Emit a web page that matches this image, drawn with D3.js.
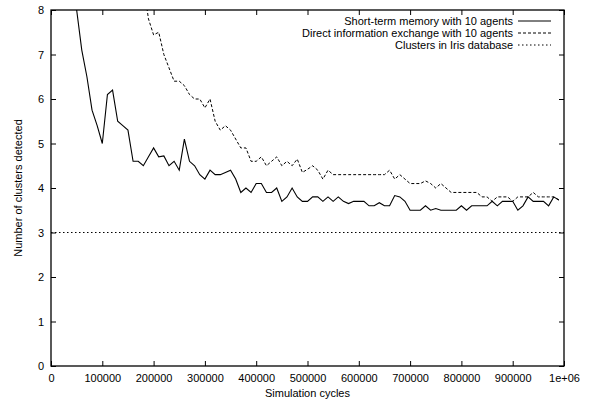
<!DOCTYPE html>
<html>
<head>
<meta charset="utf-8">
<script src="https://cdn.jsdelivr.net/npm/d3@7/dist/d3.min.js"></script>
<style>
  body { margin: 0; background: #fff; }
  svg { display: block; }
  text { font-family: "Liberation Sans", Arial, Helvetica, sans-serif; font-size: 11px; fill: #000; }
</style>
</head>
<body>
<svg id="chart" width="592" height="403"></svg>
<script>
// data (one point every 10000 cycles)
var shortStart = 50000
var shortTerm = [8.0, 7.1, 6.5, 5.75, 5.4, 5.0, 6.1, 6.2, 5.5, 5.4,
  5.3, 4.6, 4.6, 4.5, 4.7, 4.9, 4.7, 4.72, 4.5, 4.6,
  4.4, 5.1, 4.6, 4.5, 4.3, 4.2, 4.4, 4.3, 4.3, 4.35,
  4.4, 4.2, 3.9, 4.0, 3.9, 4.1, 4.1, 3.9, 3.9, 4.0,
  3.7, 3.8, 4.0, 3.8, 3.7, 3.7, 3.8, 3.8, 3.7, 3.8,
  3.7, 3.8, 3.7, 3.65, 3.7, 3.7, 3.7, 3.6, 3.6, 3.67,
  3.6, 3.6, 3.83, 3.8, 3.7, 3.5, 3.5, 3.5, 3.6, 3.5,
  3.54, 3.5, 3.5, 3.5, 3.5, 3.6, 3.5, 3.6, 3.6, 3.6,
  3.6, 3.7, 3.6, 3.7, 3.7, 3.7, 3.5, 3.6, 3.8, 3.7,
  3.7, 3.7, 3.6, 3.8, 3.73]

var directStart = 180000
var direct = [8.6, 7.8, 7.44, 7.5, 7.0, 6.7, 6.4, 6.4, 6.3, 6.1,
  6.0, 6.0, 5.8, 6.0, 5.5, 5.3, 5.4, 5.3, 5.1, 4.9,
  4.9, 4.6, 4.6, 4.7, 4.5, 4.6, 4.7, 4.5, 4.6, 4.5,
  4.65, 4.35, 4.42, 4.5, 4.4, 4.2, 4.4, 4.3, 4.3, 4.3,
  4.3, 4.3, 4.3, 4.3, 4.3, 4.3, 4.3, 4.3, 4.4, 4.2,
  4.3, 4.2, 4.1, 4.1, 4.1, 4.16, 4.1, 4.0, 4.1, 4.0,
  3.9, 3.9, 3.9, 3.9, 3.9, 3.9, 3.8, 3.8, 3.7, 3.8,
  3.8, 3.8, 3.7, 3.8, 3.8, 3.8, 3.9, 3.8, 3.8, 3.8,
  3.8, 3.73]

var irisClusters = 3

var xTicks = [0, 100000, 200000, 300000, 400000, 500000, 600000, 700000, 800000, 900000, 1000000]
var yTicks = [0, 1, 2, 3, 4, 5, 6, 7, 8]

var legendLabels = ["Short-term memory with 10 agents", "Direct information exchange with 10 agents", "Clusters in Iris database"]

// layout (plot box edges)
var pL = 51, pR = 564, pT = 10, pB = 366

var svg = d3.select("#chart")

var x = d3.scaleLinear().domain([0, 1000000]).range([pL, pR])
var y = d3.scaleLinear().domain([0, 8]).range([pB, pT])

svg.append("clipPath").attr("id", "plotclip")
  .append("rect")
  .attr("x", pL).attr("y", pT)
  .attr("width", pR - pL).attr("height", pB - pT)

function xLabel(d) {
  return d === 1000000 ? "1e+06" : String(d)
}
function noLabel() { return "" }

// axes: labelled bottom/left, mirrored inward ticks top/right
svg.append("g")
  .attr("transform", "translate(0," + pB + ")")
  .call(d3.axisBottom(x).tickValues(xTicks).tickFormat(xLabel).tickSizeInner(-5).tickSizeOuter(0).tickPadding(8))
svg.append("g")
  .attr("transform", "translate(0," + pT + ")")
  .call(d3.axisTop(x).tickValues(xTicks).tickFormat(noLabel).tickSizeInner(-5).tickSizeOuter(0))
svg.append("g")
  .attr("transform", "translate(" + pL + ",0)")
  .call(d3.axisLeft(y).tickValues(yTicks).tickFormat(d3.format("d")).tickSizeInner(-5).tickSizeOuter(0).tickPadding(7))
svg.append("g")
  .attr("transform", "translate(" + pR + ",0)")
  .call(d3.axisRight(y).tickValues(yTicks).tickFormat(noLabel).tickSizeInner(-5).tickSizeOuter(0))

svg.selectAll(".domain").remove()
svg.selectAll(".tick line").attr("stroke", "#000")
svg.selectAll(".tick text").style("font-size", "11px")

// frame
svg.append("rect")
  .attr("x", pL).attr("y", pT)
  .attr("width", pR - pL).attr("height", pB - pT)
  .attr("fill", "none").attr("stroke", "#000").attr("stroke-width", 1.3)

// series
var line = d3.line()
  .x(function(d) { return x(d[0]) })
  .y(function(d) { return y(d[1]) })

function toPoints(start, vals) {
  return vals.map(function(v, i) { return [start + i * 10000, v] })
}

var plot = svg.append("g").attr("clip-path", "url(#plotclip)")

plot.append("line")
  .attr("x1", x(0)).attr("x2", x(1000000))
  .attr("y1", y(irisClusters)).attr("y2", y(irisClusters))
  .attr("stroke", "#000").attr("stroke-width", 1)
  .attr("stroke-dasharray", "1.5,2.5")

plot.append("path")
  .datum(toPoints(directStart, direct))
  .attr("d", line)
  .attr("fill", "none").attr("stroke", "#000").attr("stroke-width", 1)
  .attr("stroke-dasharray", "3,2")

plot.append("path")
  .datum(toPoints(shortStart, shortTerm))
  .attr("d", line)
  .attr("fill", "none").attr("stroke", "#000").attr("stroke-width", 1.1)

// legend
var dashes = [null, "3,2", "1.5,2.5"]
var legend = svg.append("g")
legendLabels.forEach(function(lbl, i) {
  var ly = 21 + i * 12
  legend.append("text")
    .attr("x", 513).attr("y", ly + 4)
    .attr("text-anchor", "end")
    .text(lbl)
  legend.append("line")
    .attr("x1", 518).attr("x2", 551)
    .attr("y1", ly).attr("y2", ly)
    .attr("stroke", "#000").attr("stroke-width", 1)
    .attr("stroke-dasharray", dashes[i])
})

// axis titles
svg.append("text")
  .attr("x", (pL + pR) / 2).attr("y", 397)
  .attr("text-anchor", "middle")
  .text("Simulation cycles")

svg.append("text")
  .attr("transform", "translate(22," + ((pT + pB) / 2) + ") rotate(-90)")
  .attr("text-anchor", "middle")
  .text("Number of clusters detected")
</script>
</body>
</html>
